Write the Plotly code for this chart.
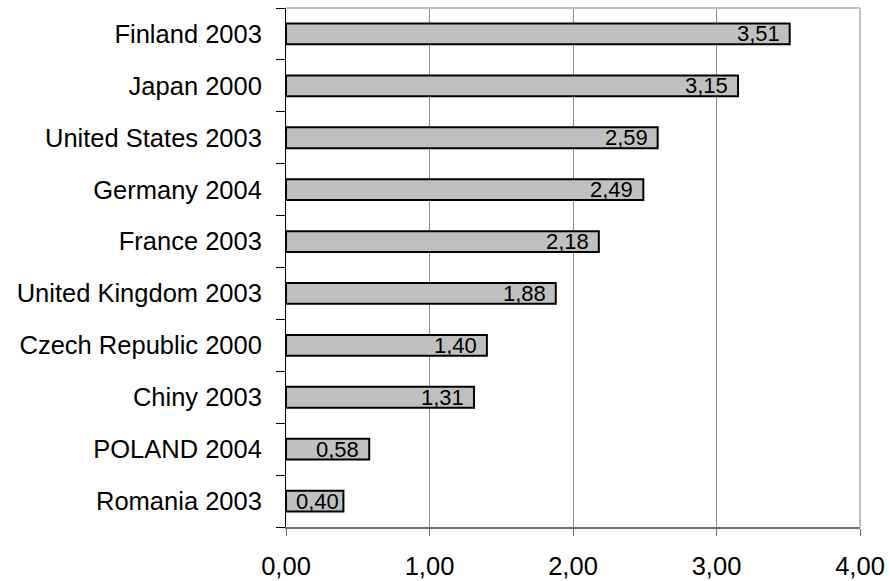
import plotly.graph_objects as go

# R&D expenditure as share of GDP, by country and year
countries = [
    "Finland 2003", "Japan 2000", "United States 2003", "Germany 2004",
    "France 2003", "United Kingdom 2003", "Czech Republic 2000",
    "Chiny 2003", "POLAND 2004", "Romania 2003",
]
values = [3.51, 3.15, 2.59, 2.49, 2.18, 1.88, 1.40, 1.31, 0.58, 0.40]
x_ticks = [0, 1, 2, 3, 4]

FONT = "Liberation Sans, Arial, sans-serif"

fig = go.Figure(
    go.Bar(
        x=values,
        y=countries,
        orientation="h",
        marker=dict(color="#c0c0c0", line=dict(color="#000000", width=2)),
        hoverinfo="x+y",
    )
)

# value labels just inside the end of each bar
for c, v in zip(countries, values):
    fig.add_annotation(
        x=v, y=c, xref="x", yref="y",
        text=f"{v:.2f}".replace(".", ","),
        showarrow=False,
        xanchor="right",
        yanchor="middle",
        xshift=-8 if v > 0.5 else -2,
        font=dict(family=FONT, size=22, color="#000000"),
    )

fig.update_layout(
    width=890,
    height=581,
    margin=dict(l=286, r=30, t=8, b=54),
    paper_bgcolor="white",
    plot_bgcolor="white",
    separators=", ",
    bargap=0.6,
    showlegend=False,
    font=dict(family=FONT, color="#000000"),
)

fig.update_xaxes(
    range=[0, 4],
    tickvals=x_ticks,
    tickformat=".2f",
    tickfont=dict(size=25.5, family=FONT, color="#000000"),
    showgrid=True,
    gridcolor="#8c8c8c",
    gridwidth=1,
    showline=True,
    linecolor="#707070",
    linewidth=2,
    ticks="outside",
    ticklen=7,
    tickcolor="#707070",
    ticklabelstandoff=8,
    zeroline=False,
    automargin=False,
)

fig.update_yaxes(
    categoryorder="array",
    categoryarray=countries[::-1],
    tickfont=dict(size=25.5, family=FONT, color="#000000"),
    showline=True,
    linecolor="#000000",
    linewidth=1,
    ticks="outside",
    tickson="boundaries",
    ticklen=9,
    tickcolor="#000000",
    ticklabelstandoff=18,
    showgrid=False,
    automargin=False,
)

# light frame along the top and right of the plot area
fig.add_shape(type="line", xref="paper", yref="paper", x0=0, x1=1, y0=1, y1=1,
              line=dict(color="#c0c0c0", width=2))
fig.add_shape(type="line", xref="paper", yref="paper", x0=1, x1=1, y0=0, y1=1,
              line=dict(color="#c0c0c0", width=2))

fig.write_html("out.html")
